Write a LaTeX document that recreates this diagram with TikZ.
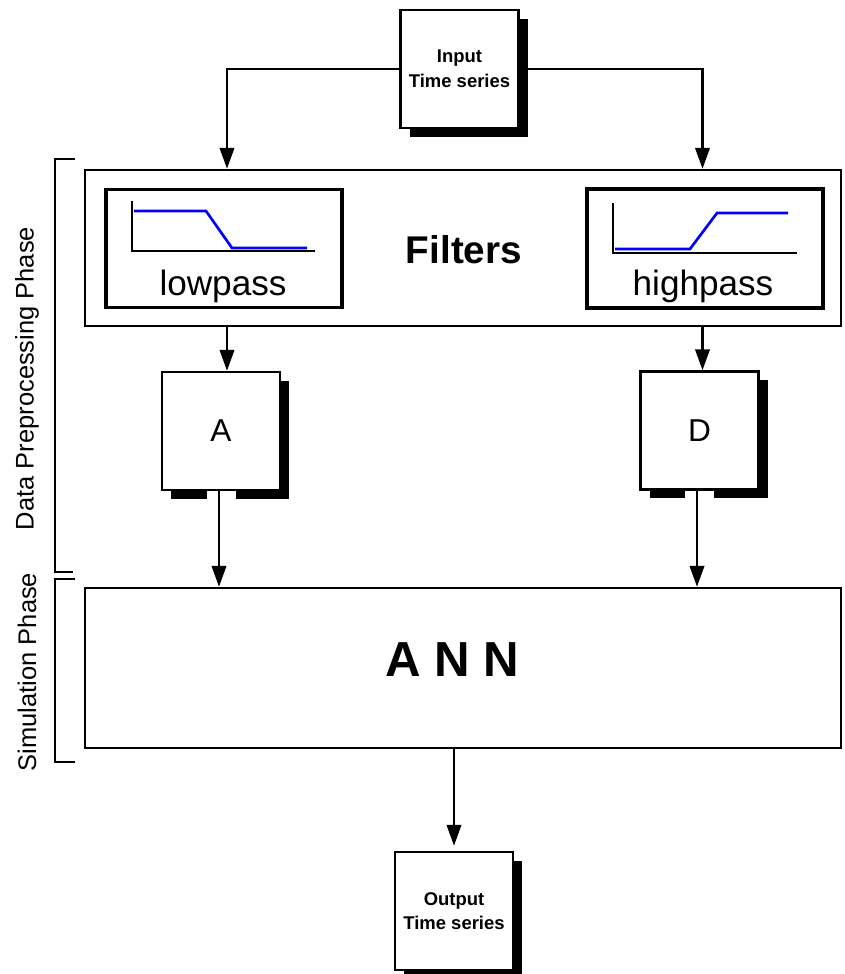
\documentclass[tikz,border=0pt]{standalone}
\usepackage{fontspec}
\setmainfont{Liberation Sans}
\usetikzlibrary{positioning,calc,arrows.meta,shadows}

\begin{document}
\begin{tikzpicture}[
    box/.style={draw, line width=1.4pt, fill=white, minimum width=2.36cm, minimum height=2.36cm, inner sep=0pt, align=center},
    shbox/.style={box, drop shadow={shadow xshift=0.18cm, shadow yshift=-0.18cm, fill=black, opacity=1}},
    bigbox/.style={draw, line width=1.4pt, minimum width=15.12cm},
    filtbox/.style={draw, line width=2.1pt, minimum width=4.72cm, minimum height=2.36cm},
    arr/.style={line width=1.4pt, -{Triangle[length=0.42cm, width=0.29cm]}},
    curve/.style={blue, line width=1.5pt},
    phase/.style={rotate=90, font=\fontsize{14.5}{17}\selectfont},
    tsfont/.style={font=\fontsize{10.5}{14}\selectfont\bfseries}
  ]
  \useasboundingbox (0,0) rectangle (16.88,19.48);

  % Input time series
  \node[shbox, tsfont] (in) at (9.19, 18.10) {Input\\Time series};

  % Filters
  \node[bigbox, minimum height=3.12cm] (filt) at (9.26, 14.52) {};
  \node[font=\fontsize{22}{26}\selectfont\bfseries] (filtlbl) at (9.28, 14.48) {Filters};
  \node[filtbox] (low) at (4.48, 14.51) {};
  \node[filtbox, minimum height=2.38cm] (high) at (14.10, 14.51) {};
  \draw[line width=1.6pt] (2.64, 15.46) -- (2.64, 14.46) -- (6.30, 14.46);
  \draw[curve] (2.68, 15.26) -- (4.12, 15.26) -- (4.64, 14.52) -- (6.14, 14.52);
  \draw[line width=1.6pt] (12.26, 15.42) -- (12.26, 14.42) -- (15.94, 14.42);
  \draw[curve] (12.30, 14.50) -- (13.80, 14.50) -- (14.34, 15.22) -- (15.76, 15.22);
  \node[font=\fontsize{20}{24}\selectfont] (lowlbl) at (4.46, 13.76) {lowpass};
  \node[font=\fontsize{20}{24}\selectfont] (highlbl) at (14.06, 13.76) {highpass};

  % A and D
  \node[shbox, font=\fontsize{18}{22}\selectfont] (a) at (4.42, 10.86) {A};
  \node[shbox, font=\fontsize{18}{22}\selectfont] (d) at (13.99, 10.87) {D};
  \fill[white] (4.14, 9.45) rectangle (4.72, 9.65);
  \fill[white] (13.70, 9.45) rectangle (14.28, 9.66);

  % ANN
  \node[bigbox, minimum height=3.20cm] (ann) at (9.26, 6.12) {};
  \node[font=\fontsize{28}{32}\selectfont\bfseries] (annlbl) at (9.05, 6.29) {A N N};

  % Output time series
  \node[shbox, tsfont] (out) at (9.08, 1.26) {Output\\Time series};

  % columns
  \coordinate (inL) at (4.54, 0);
  \coordinate (inR) at (14.05, 0);
  \coordinate (outL) at (4.38, 0);
  \coordinate (outR) at (13.94, 0);

  \draw[arr] (in.west) -| (filt.north -| inL);
  \draw[arr] (in.east) -| (filt.north -| inR);
  \draw[arr] (filt.south -| inL) -- (a.north -| inL);
  \draw[arr] (filt.south -| inR) -- (d.north -| inR);
  \draw[arr] (a.south -| outL) -- (ann.north -| outL);
  \draw[arr] (d.south -| outR) -- (ann.north -| outR);
  \draw[arr, shorten >=0.1cm] (ann.south -| out.north) -- (out.north);

  % Phases
  \draw[line width=1.4pt] (1.50, 16.30) -- (1.10, 16.30) -- (1.10, 8.04) -- (1.46, 8.04);
  \draw[line width=1.4pt] (1.50, 7.90) -- (1.10, 7.90) -- (1.10, 4.24) -- (1.50, 4.24);
  \node[phase] (dataphase) at (0.54, 11.91) {Data Preprocessing Phase};
  \node[phase] (simphase) at (0.54, 6.04) {Simulation Phase};
\end{tikzpicture}
\end{document}
